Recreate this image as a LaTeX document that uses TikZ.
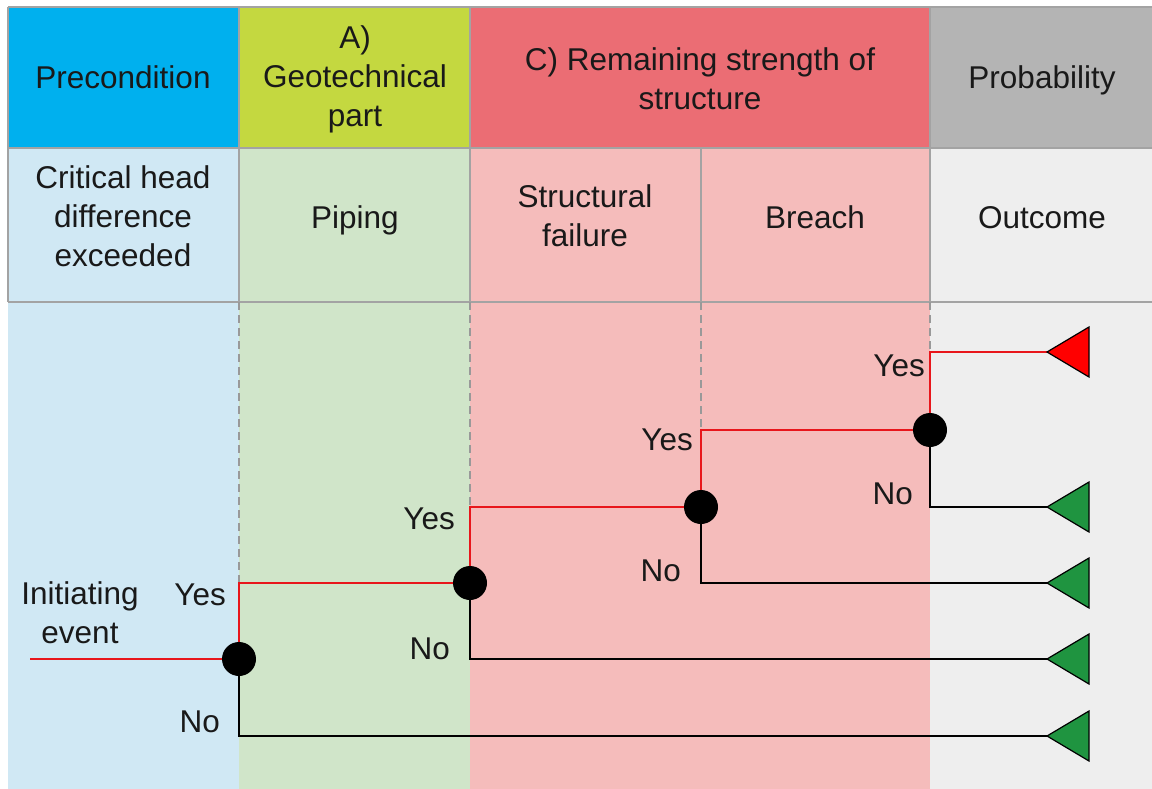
\documentclass[tikz,border=0pt]{standalone}
\usepackage{fontspec}
\setmainfont{Liberation Sans}
\definecolor{hdrblue}{HTML}{00B0EE}
\definecolor{hdrgreen}{HTML}{C4D840}
\definecolor{hdrred}{HTML}{EB6D74}
\definecolor{hdrgray}{HTML}{B4B4B4}
\definecolor{bodyblue}{HTML}{D0E8F4}
\definecolor{bodygreen}{HTML}{D0E5C9}
\definecolor{bodyred}{HTML}{F5BCBB}
\definecolor{bodygray}{HTML}{EEEEEE}
\definecolor{gridgray}{HTML}{A3A3A3}
\definecolor{yesred}{HTML}{E8161B}
\definecolor{trired}{HTML}{FF0000}
\definecolor{trigreen}{HTML}{1F9440}
\begin{document}
\begin{tikzpicture}[x=1pt,y=-1pt,
  txt/.style={font=\fontsize{31.5}{39}\selectfont, inner sep=0pt, align=center, text=black!90},
  lbl/.style={font=\fontsize{31.5}{39}\selectfont, inner sep=0pt, text=black!90},
  grid/.style={draw=gridgray, line width=1.4pt},
  guide/.style={draw=gray!80, line width=1.2pt, dash pattern=on 8pt off 5pt},
  yesline/.style={draw=yesred, line width=2.5pt},
  noline/.style={draw=black, line width=2.2pt},
  dot/.style={circle, fill=black, minimum size=34pt, inner sep=0pt},
  outcome/.style={draw=black, line width=1.2pt, line join=miter}]
\useasboundingbox (0,0) rectangle (1152,789);
\fill[white] (0,0) rectangle (1152,789);

% column backgrounds
\fill[hdrblue]  (8,7)   rectangle (239,148);
\fill[hdrgreen] (239,7) rectangle (470,148);
\fill[hdrred]   (470,7) rectangle (930,148);
\fill[hdrgray]  (930,7) rectangle (1152,148);
\fill[bodyblue]  (8,148)   rectangle (239,789);
\fill[bodygreen] (239,148) rectangle (470,789);
\fill[bodyred]   (470,148) rectangle (930,789);
\fill[bodygray]  (930,148) rectangle (1152,789);

% table rules
\draw[grid] (8,7) -- (1152,7);
\draw[grid] (8,148) -- (1152,148);
\draw[grid] (8,302) -- (1152,302);
\draw[grid] (8,7) -- (8,302);
\draw[grid] (239,7) -- (239,302);
\draw[grid] (470,7) -- (470,302);
\draw[grid] (930,7) -- (930,302);
\draw[grid] (701,148) -- (701,302);

% header texts
\node[txt, anchor=base] (hPre)  at (123,89)  {Precondition};
\node[txt] (hGeo)  at (355,79)  {A)\\Geotechnical\\part};
\node[txt] (hRem)  at (700,79)  {C) Remaining strength of\\structure};
\node[txt, anchor=base] (hProb) at (1042,89) {Probability};
\node[txt] (sCrit) at (123,216) {Critical head\\difference\\exceeded};
\node[txt, anchor=base] (sPip)  at (355,228) {Piping};
\node[txt] (sStr)  at (585,216) {Structural\\failure};
\node[txt, anchor=base] (sBr)   at (815,228) {Breach};
\node[txt, anchor=base] (sOut)  at (1042,228) {Outcome};

% decision points and outcome tips
\coordinate (start) at (30,659);
\coordinate (d1) at (239,659);
\coordinate (d2) at (470,583);
\coordinate (d3) at (701,507);
\coordinate (d4) at (930,430);
\coordinate (t1) at (1047,352);
\coordinate (t2) at (1047,507);
\coordinate (t3) at (1047,583);
\coordinate (t4) at (1047,659);
\coordinate (t5) at (1047,736);

% dashed guides below the column rules
\draw[guide] (239,302) -- (239,583);
\draw[guide] (470,302) -- (470,505);
\draw[guide] (701,302) -- (701,428);
\draw[guide] (930,302) -- (930,350);

% branches
\draw[yesline] (start) -- (d1);
\draw[noline] (d1) |- (t5);
\draw[noline] (d2) |- (t4);
\draw[noline] (d3) |- (t3);
\draw[noline] (d4) |- (t2);
\draw[yesline] (d1) |- (d2);
\draw[yesline] (d2) |- (d3);
\draw[yesline] (d3) |- (d4);
\draw[yesline] (d4) |- (t1);

% outcome triangles
\draw[outcome, fill=trired]   (t1) -- ++(42,-25) -- ++(0,50) -- cycle;
\draw[outcome, fill=trigreen] (t2) -- ++(42,-25) -- ++(0,50) -- cycle;
\draw[outcome, fill=trigreen] (t3) -- ++(42,-25) -- ++(0,50) -- cycle;
\draw[outcome, fill=trigreen] (t4) -- ++(42,-25) -- ++(0,50) -- cycle;
\draw[outcome, fill=trigreen] (t5) -- ++(42,-25) -- ++(0,50) -- cycle;

% dots
\node[dot] (n1) at (d1) {};
\node[dot] (n2) at (d2) {};
\node[dot] (n3) at (d3) {};
\node[dot] (n4) at (d4) {};

% labels
\node[txt] (init) at (80,613) {Initiating\\event};
\node[lbl, anchor=east] (y1) at (226,595) {Yes};
\node[lbl, anchor=east] (n1l) at (220,722) {No};
\node[lbl, anchor=east] (y2) at (455,519) {Yes};
\node[lbl, anchor=east] (n2l) at (450,649) {No};
\node[lbl, anchor=east] (y3) at (693,440) {Yes};
\node[lbl, anchor=east] (n3l) at (681,571) {No};
\node[lbl, anchor=east] (y4) at (925,366) {Yes};
\node[lbl, anchor=east] (n4l) at (913,494) {No};
\end{tikzpicture}
\end{document}
